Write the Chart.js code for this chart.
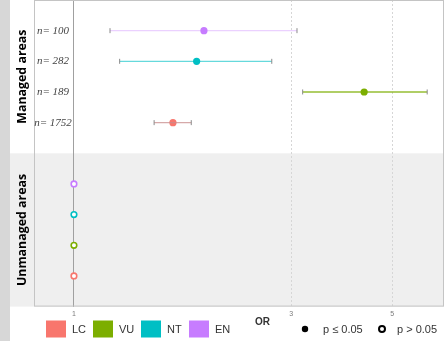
<!DOCTYPE html>
<html>
<head>
<meta charset="utf-8">
<script src="https://cdn.jsdelivr.net/npm/chart.js@4.4.1/dist/chart.umd.min.js"></script>
<style>
  body { margin: 0; background: #fff; }
  canvas { display: block; }
</style>
</head>
<body>
<canvas id="orChart" width="445" height="341"></canvas>
<script>
// Red List categories, one colour each (ggplot defaults)
const categories = ["LC", "VU", "NT", "EN"];
const catColors = ["#F8766D", "#7CAE00", "#00BFC4", "#C77CFF"];
const lineColors = ["rgba(200,140,140,0.75)", "rgba(124,174,0,0.8)", "rgba(0,191,196,0.6)", "rgba(199,124,255,0.35)"];

// managed areas: sample size, odds ratio and 95% CI
const nManaged = [1752, 189, 282, 100];
const orManaged = [1.65, 4.34, 1.86, 1.93];
const ciLow = [1.50, 3.18, 1.26, 1.20];
const ciHigh = [1.81, 5.97, 2.72, 3.09];

// unmanaged areas (reference level, not significant)
const orUnmanaged = [1, 1, 1, 1];

const panels = ["Managed areas", "Unmanaged areas"];
const xTicks = [1, 3, 5];

// row index on the y scale: managed rows 1-4, unmanaged rows 6-9
const managedRow = i => 4 - i;
const unmanagedRow = i => 9 - i;

const datasets = [];
categories.forEach((cat, i) => {
    datasets.push({
        label: cat + " CI",
        type: "line",
        showLine: true,
        data: [{ x: ciLow[i], y: managedRow(i) }, { x: ciHigh[i], y: managedRow(i) }],
        borderColor: lineColors[i],
        borderWidth: 1.3,
        pointStyle: "line",
        rotation: 90,
        pointRadius: 2.5,
        pointBorderColor: "#8a8a8a",
        pointBorderWidth: 1
    });
    datasets.push({
        label: cat + " managed",
        data: [{ x: orManaged[i], y: managedRow(i) }],
        backgroundColor: catColors[i],
        borderWidth: 0,
        pointRadius: 3.6
    });
    datasets.push({
        label: cat + " unmanaged",
        data: [{ x: orUnmanaged[i], y: unmanagedRow(i) }],
        backgroundColor: "#ffffff",
        borderColor: catColors[i],
        borderWidth: 1.6,
        pointRadius: 2.8
    });
});

const facetPlugin = {
    id: "facets",
    beforeDraw(chart) {
        const { ctx, chartArea: a, scales: { y } } = chart;
        const split = y.getPixelForValue(5);
        ctx.save();
        ctx.fillStyle = "#ffffff";
        ctx.fillRect(0, 0, chart.width, chart.height);
        ctx.fillStyle = "#efefef";
        ctx.fillRect(10, split, a.right - 10, a.bottom - split);
        ctx.fillStyle = "#d7d7d7";
        ctx.fillRect(0, 0, 10, chart.height);
        ctx.restore();
    },
    afterDatasetsDraw(chart) {
        const { ctx, chartArea: a, scales: { y } } = chart;
        const split = y.getPixelForValue(5);
        ctx.save();
        // panel frame
        ctx.strokeStyle = "#c4c4c4";
        ctx.lineWidth = 1;
        ctx.strokeRect(a.left + 0.5, a.top + 0.5, a.right - a.left - 1, a.bottom - a.top - 1);

        // sample sizes
        ctx.fillStyle = "#444";
        ctx.font = "italic 11px 'Liberation Serif'";
        ctx.textAlign = "center";
        ctx.textBaseline = "middle";
        nManaged.forEach((n, i) => {
            ctx.fillText("n= " + n, a.left + 19, y.getPixelForValue(managedRow(i)));
        });

        // strip labels
        ctx.fillStyle = "#000";
        ctx.font = "bold 12.4px 'Open Sans'";
        const centers = [(a.top + split) / 2, (split + a.bottom) / 2];
        panels.forEach((p, k) => {
            ctx.save();
            ctx.translate(22, centers[k]);
            ctx.rotate(-Math.PI / 2);
            ctx.fillText(p, 0, 0);
            ctx.restore();
        });

        // legend row
        const ly = 329;
        ctx.font = "11px 'Liberation Sans'";
        ctx.textAlign = "left";
        const boxX = [46, 93, 141, 189];
        categories.forEach((cat, i) => {
            ctx.fillStyle = catColors[i];
            ctx.fillRect(boxX[i], ly - 8.5, 20, 17);
            ctx.fillStyle = "#333";
            ctx.fillText(cat, boxX[i] + 26, ly + 1);
        });
        ctx.font = "bold 10px 'Liberation Sans'";
        ctx.fillStyle = "#333";
        ctx.fillText("OR", 255, 322);

        ctx.font = "11px 'Liberation Sans'";
        ctx.fillStyle = "#000";
        ctx.beginPath();
        ctx.arc(305, ly, 3.2, 0, Math.PI * 2);
        ctx.fill();
        ctx.fillStyle = "#333";
        ctx.fillText("p \u2264 0.05", 323, ly + 1);
        ctx.beginPath();
        ctx.arc(382, ly, 3, 0, Math.PI * 2);
        ctx.strokeStyle = "#000";
        ctx.lineWidth = 2;
        ctx.stroke();
        ctx.fillText("p > 0.05", 397, ly + 1);
        ctx.restore();
    }
};

new Chart(document.getElementById("orChart"), {
    type: "scatter",
    data: { datasets: datasets },
    plugins: [facetPlugin],
    options: {
        responsive: false,
        animation: false,
        layout: { autoPadding: false, padding: { left: 34, right: 1, top: 0, bottom: 20 } },
        plugins: { legend: { display: false }, tooltip: { enabled: false } },
        scales: {
            x: {
                type: "logarithmic",
                min: 0.817,
                max: 6.5,
                afterBuildTicks: s => { s.ticks = xTicks.map(v => ({ value: v })); },
                ticks: {
                    callback: v => String(v),
                    font: { size: 7, family: "'Liberation Sans'" },
                    color: "#7a7a7a",
                    padding: 3,
                    maxRotation: 0
                },
                grid: {
                    color: c => (c.tick && c.tick.value === 1) ? "#a0a0a0" : "#d6d6d6",
                    lineWidth: 1,
                    drawTicks: false
                },
                border: {
                    display: false,
                    dash: c => (c.tick && c.tick.value === 1) ? [] : [2, 2]
                }
            },
            y: {
                type: "linear",
                min: 0,
                max: 10,
                reverse: true,
                display: false
            }
        }
    }
});
</script>
</body>
</html>
